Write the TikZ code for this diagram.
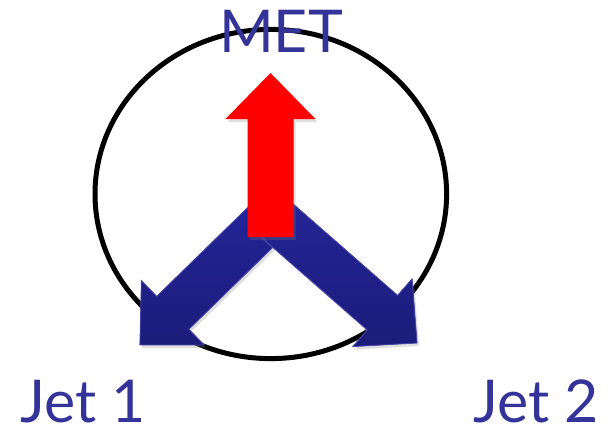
\documentclass[tikz,border=0pt]{standalone}
\usepackage{fontspec}
\setmainfont{Lato}
\usetikzlibrary{shadows}

\definecolor{lblblue}{RGB}{51,51,153}
\definecolor{jetblue}{RGB}{36,36,152}
\definecolor{jetdark}{RGB}{28,28,122}
\definecolor{jetedge}{RGB}{70,70,175}

% fat block arrow: style, start, angle, length
\newcommand{\bigarrow}[4]{%
  \fill[#1, shift={#2}, rotate=#3]
    (0,-23) -- ({#4-46},-23) -- ({#4-46},-45) -- (#4,0)
    -- ({#4-46},45) -- ({#4-46},23) -- (0,23) -- cycle;}

\begin{document}
\begin{tikzpicture}[x=1pt, y=1pt,
  lbl/.style={text=lblblue, font=\fontsize{59}{70}\selectfont, inner sep=0pt,
    text depth=0pt, anchor=base},
  jet/.style={top color=jetblue, bottom color=jetdark, draw=jetedge, line width=0.8pt,
    drop shadow={shadow xshift=2pt, shadow yshift=-3pt, opacity=0.25}},
  met/.style={fill=red, drop shadow={shadow xshift=2pt, shadow yshift=-3pt, opacity=0.25}}]

  \useasboundingbox (0,0) rectangle (615,432);

  % event display
  \draw[line width=5pt] (270.8,238) ellipse [x radius=175.8, y radius=164.6];

  \coordinate (hub) at (272,216);
  \coordinate (metbase) at (270.5,195);

  % jets and missing energy
  \bigarrow{jet}{(hub)}{224.3}{184.6}
  \bigarrow{jet}{(hub)}{-41.2}{192.8}
  \bigarrow{met}{(metbase)}{90}{164}

  % labels
  \node[lbl] (met) at (281,379) {MET};
  \node[lbl] (jet1) at (83,10) {Jet 1};
  \node[lbl] (jet2) at (536,10) {Jet 2};

\end{tikzpicture}
\end{document}
